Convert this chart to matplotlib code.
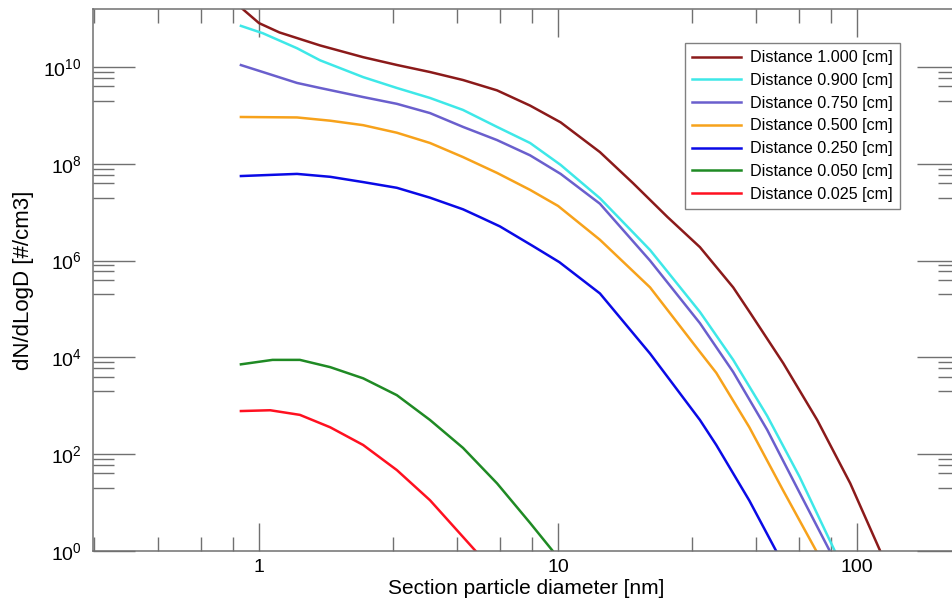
import numpy as np
import matplotlib
matplotlib.use("Agg")
import matplotlib.pyplot as plt
from matplotlib.ticker import FixedLocator, FixedFormatter, NullFormatter

plt.rcParams['font.family'] = ['Liberation Sans', 'DejaVu Sans']
plt.rcParams['mathtext.fontset'] = 'custom'
plt.rcParams['mathtext.rm'] = 'Liberation Sans'

# distance 1.000 cm
d_100 = [0.87, 1.0, 1.17, 1.6, 2.23, 2.9, 3.73, 4.81, 6.25, 8.06, 10.2, 13.8, 17.8,
         23.2, 29.8, 38.5, 43.9, 56.6, 73.5, 94.8, 119, 128]
n_100 = [1.7e11, 8.1e10, 5.2e10, 2.8e10, 1.6e10, 1.1e10, 7.9e9, 5.4e9, 3.3e9, 1.6e9,
         7.2e8, 1.75e8, 4.0e7, 8.0e6, 1.9e6, 2.8e5, 8.3e4, 7.6e3, 5.1e2, 25, 1.05, 0.32]
# distance 0.900 cm
d_090 = [0.87, 1.03, 1.34, 1.6, 2.23, 2.89, 3.73, 4.81, 6.25, 8.06, 10.2, 13.8, 20.3,
         29.8, 38.5, 50.0, 64.2, 84.2, 90]
n_090 = [7.1e10, 5.0e10, 2.45e10, 1.38e10, 6.2e9, 3.7e9, 2.3e9, 1.3e9, 5.8e8, 2.7e8,
         9.5e7, 1.95e7, 1.66e6, 8.7e4, 8.9e3, 6.2e2, 34, 1.0, 0.4]
# distance 0.750 cm
d_075 = [0.87, 1.03, 1.34, 1.6, 2.23, 2.89, 3.73, 4.81, 6.25, 8.06, 10.2, 13.8, 20.3,
         29.8, 38.5, 50.0, 64.2, 81, 87]
n_075 = [1.1e10, 7.9e9, 4.7e9, 3.7e9, 2.4e9, 1.74e9, 1.12e9, 5.8e8, 3.1e8, 1.5e8,
         6.2e7, 1.5e7, 1.0e6, 5.1e4, 5.0e3, 3.2e2, 16, 1.0, 0.4]
# distance 0.500 cm
d_050 = [0.87, 1.34, 1.73, 2.23, 2.89, 3.73, 4.81, 6.25, 8.06, 10.0, 13.8, 20.3,
         29.8, 33.8, 43.6, 56.5, 73, 78]
n_050 = [9.3e8, 9.1e8, 7.8e8, 6.3e8, 4.4e8, 2.7e8, 1.38e8, 6.5e7, 2.9e7, 1.35e7,
         2.7e6, 2.8e5, 1.3e4, 4.8e3, 3.6e2, 18, 1.0, 0.4]
# distance 0.250 cm
d_025 = [0.87, 1.34, 1.73, 2.23, 2.89, 3.73, 4.81, 5.49, 6.39, 8.24, 10.1, 13.8,
         20.3, 29.8, 33.8, 43.6, 53.6, 58]
n_025 = [5.6e7, 6.2e7, 5.4e7, 4.2e7, 3.2e7, 2.0e7, 1.15e7, 7.9e6, 5.1e6, 2.0e6,
         9.3e5, 2.1e5, 1.2e4, 5.1e2, 1.55e2, 11, 1.0, 0.3]
# distance 0.050 cm
d_005 = [0.87, 1.11, 1.37, 1.73, 2.23, 2.89, 3.73, 4.81, 6.25, 8.06, 9.6, 10.3]
n_005 = [7.2e3, 8.9e3, 8.9e3, 6.3e3, 3.7e3, 1.66e3, 5.1e2, 1.35e2, 25, 3.8, 1.0, 0.45]
# distance 0.025 cm
d_0025 = [0.87, 1.09, 1.37, 1.73, 2.23, 2.89, 3.73, 4.81, 5.3, 5.7]
n_0025 = [7.8e2, 8.1e2, 6.5e2, 3.6e2, 1.55e2, 47, 11.2, 1.95, 1.0, 0.5]

series = [
    (d_100, n_100, 'Distance 1.000 [cm]', '#8b1a1a'),
    (d_090, n_090, 'Distance 0.900 [cm]', '#3ee8e8'),
    (d_075, n_075, 'Distance 0.750 [cm]', '#6a5fcd'),
    (d_050, n_050, 'Distance 0.500 [cm]', '#f7a21b'),
    (d_025, n_025, 'Distance 0.250 [cm]', '#0a0ae6'),
    (d_005, n_005, 'Distance 0.050 [cm]', '#1f8a24'),
    (d_0025, n_0025, 'Distance 0.025 [cm]', '#ff1020'),
]

x_major = [1, 10, 100]
x_labels = ['1', '10', '100']
x_minor = [0.28, 0.46, 0.64, 0.82, 2.8, 4.6, 6.4, 8.2, 28, 46, 64, 82]
y_major = [1e0, 1e2, 1e4, 1e6, 1e8, 1e10]
y_labels = [r'$\mathregular{10^{%d}}$' % e for e in [0, 2, 4, 6, 8, 10]]
y_minor = [m * 10.0 ** e for e in [-1, 1, 3, 5, 7, 9] for m in [2, 4, 6, 8]]

fig = plt.figure(figsize=(9.52, 6.06), dpi=100)
ax = fig.add_axes([93 / 952, 55 / 606, 866 / 952, 542 / 606])

for d, n, lab, col in series:
    ax.plot(d, n, color=col, lw=1.8, label=lab)

ax.set_xscale('log')
ax.set_yscale('log')
ax.set_xlim(0.2786, 219)
ax.set_ylim(1, 10 ** 11.2)

ax.xaxis.set_major_locator(FixedLocator(x_major))
ax.xaxis.set_major_formatter(FixedFormatter(x_labels))
ax.xaxis.set_minor_locator(FixedLocator(x_minor))
ax.xaxis.set_minor_formatter(NullFormatter())
ax.yaxis.set_major_locator(FixedLocator(y_major))
ax.yaxis.set_major_formatter(FixedFormatter(y_labels))
ax.yaxis.set_minor_locator(FixedLocator(y_minor))
ax.yaxis.set_minor_formatter(NullFormatter())

spine_col = '#707070'
for s in ax.spines.values():
    s.set_color(spine_col)
    s.set_linewidth(1.1)
ax.tick_params(axis='x', which='both', direction='in', top=True, bottom=True,
               color=spine_col, width=1.0, labelsize=14, pad=6)
ax.tick_params(axis='x', which='major', length=20)
ax.tick_params(axis='x', which='minor', length=10)
ax.tick_params(axis='y', which='both', direction='in', left=True, right=True,
               color=spine_col, width=1.0, labelsize=14, pad=8)
ax.tick_params(axis='y', which='major', length=30)
ax.tick_params(axis='y', which='minor', length=15)

ax.set_xlabel('Section particle diameter [nm]', fontsize=15)
ax.set_ylabel('dN/dLogD [#/cm3]', fontsize=16)
ax.xaxis.set_label_coords(0.5, -0.052)
ax.yaxis.set_label_coords(-0.068, 0.5)

leg = ax.legend(loc='upper right', bbox_to_anchor=(900 / 952, 1 - 43 / 606),
                bbox_transform=fig.transFigure, borderaxespad=0, fontsize=11.6,
                fancybox=False, framealpha=1, edgecolor='#808080',
                handlelength=3.05, handletextpad=0.56, labelspacing=0.48,
                borderpad=0.45)
leg.get_frame().set_linewidth(1.0)

fig.savefig('out.png', dpi=100)
